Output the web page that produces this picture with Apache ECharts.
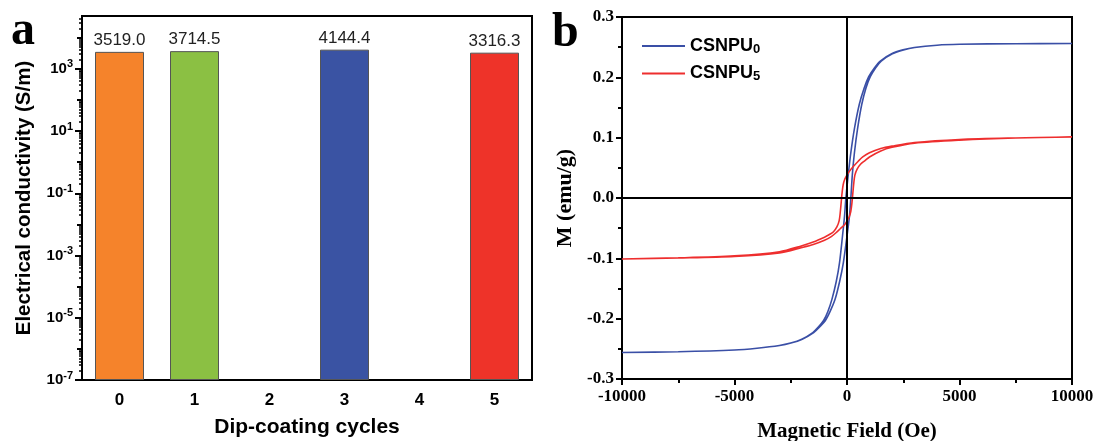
<!DOCTYPE html>
<html>
<head>
<meta charset="utf-8">
<script src="https://cdn.jsdelivr.net/npm/echarts@6/dist/echarts.min.js"></script>
<style>
  html, body { margin: 0; padding: 0; background: #fff; }
  #chart { width: 1096px; height: 441px; }
</style>
</head>
<body>
<div id="chart"></div>
<script>
// panel a: conductivity (S/m) vs dip-coating cycles
var cycles = ['0', '1', '2', '3', '4', '5'];
var conductivity = [3519.0, 3714.5, null, 4144.4, null, 3316.3];
var barColors = ['#F5832B', '#8BC043', '#ffffff', '#3A53A3', '#ffffff', '#EE3329'];
// log axis range and labelled exponents
var logMin = -7;
var logMax = Math.log10(5e4);
var labelExps = [-7, -5, -3, -1, 1, 3];

// panel b: hysteresis loops, field in Oe, moment in emu/g (descending branch then ascending)
var csnpu0H = [10000, 7500, 5000, 4000, 2990, 2490, 1985, 1480, 1225, 965, 760, 545, 330, 170, 60, -50, -110, -200, -335, -475, -670, -850, -1040, -1275, -1520, -2010, -2505, -3005, -4000, -5000, -7500, -10000,
               -7500, -5000, -4000, -2995, -2495, -1990, -1480, -1225, -960, -750, -530, -325, -165, 0, 110, 170, 240, 330, 470, 655, 840, 1035, 1275, 1520, 2015, 2510, 3010, 4000, 5000, 7500, 10000];
var csnpu0M = [0.256, 0.2557, 0.2548, 0.2533, 0.2495, 0.2455, 0.239, 0.227, 0.216, 0.201, 0.182, 0.155, 0.115, 0.075, 0.04, 0, -0.03, -0.063, -0.108, -0.138, -0.168, -0.188, -0.203, -0.214, -0.223, -0.234, -0.2405, -0.2445, -0.249, -0.252, -0.2548, -0.256,
               -0.2548, -0.252, -0.249, -0.2445, -0.2405, -0.234, -0.223, -0.214, -0.203, -0.188, -0.168, -0.138, -0.108, -0.063, -0.03, 0, 0.04, 0.075, 0.115, 0.155, 0.182, 0.201, 0.216, 0.227, 0.239, 0.2455, 0.2495, 0.2533, 0.2548, 0.2557, 0.256];
var csnpu5H = [10000, 7500, 5000, 3000, 2000, 1500, 1000, 700, 500, 300, 100, 0, -100, -170, -220, -260, -300, -350, -450, -600, -800, -1000, -1500, -2000, -3000, -5000, -7500, -10000,
               -7500, -5000, -3000, -2000, -1500, -1000, -700, -500, -300, -100, 0, 100, 170, 220, 260, 300, 350, 450, 600, 800, 1000, 1500, 2000, 3000, 5000, 7500, 10000];
var csnpu5M = [0.101, 0.0995, 0.097, 0.092, 0.086, 0.082, 0.075, 0.068, 0.061, 0.053, 0.044, 0.038, 0.031, 0.022, 0.008, -0.008, -0.024, -0.038, -0.048, -0.056, -0.061, -0.065, -0.073, -0.079, -0.089, -0.096, -0.0993, -0.101,
               -0.0995, -0.097, -0.091, -0.082, -0.077, -0.070, -0.064, -0.058, -0.051, -0.044, -0.038, -0.031, -0.022, -0.008, 0.008, 0.024, 0.038, 0.048, 0.056, 0.062, 0.068, 0.078, 0.084, 0.091, 0.096, 0.0995, 0.101];

function pairs(xs, ys) {
	var out = [];
	for (var i = 0; i < xs.length; i++) out.push([xs[i], ys[i]]);
	return out;
}

// decades above 1e-7, the left axis is drawn in these units
function toDecade(v) {
	return Math.log10(v) - logMin;
}

var sans = 'Liberation Sans';
var serif = 'Liberation Serif';

var barData = [];
for (var i = 0; i < cycles.length; i++) {
	barData.push(conductivity[i] == null ? '-' : {
		value: toDecade(conductivity[i]),
		raw: conductivity[i],
		itemStyle: { color: barColors[i] }
	});
}

// tick positions of the log axis
var majorTicks = [], midTicks = [], minorTicks = [];
for (var e = logMin; e <= 4; e++) {
	if (labelExps.indexOf(e) >= 0) majorTicks.push(e - logMin);
	else midTicks.push(e - logMin);
	for (var k = 2; k <= 9; k++) {
		var t = e - logMin + Math.log10(k);
		if (t < logMax - logMin) minorTicks.push(t);
	}
}

var tickLine = { color: '#000', width: 2 };

function overlayAxis(values, len, width) {
	return {
		type: 'value', gridIndex: 0, position: 'left', min: 0, max: logMax - logMin,
		axisLine: { show: false },
		axisTick: { show: true, length: len, customValues: values, lineStyle: { color: '#000', width: width } },
		axisLabel: { show: false },
		splitLine: { show: false }
	};
}

var myChart = echarts.init(document.getElementById('chart'), null, { renderer: 'canvas' });

var option = {
	animation: false,
	graphic: [
		{ type: 'text', left: 11, top: 8, style: { text: 'a', font: 'bold 48px "Liberation Serif"', fill: '#000' } },
		{ type: 'text', left: 552, top: 10, style: { text: 'b', font: 'bold 48px "Liberation Serif"', fill: '#000' } }
	],
	grid: [
		{ left: 82, top: 16, width: 450, height: 364, show: true, borderColor: '#000', borderWidth: 2, outerBoundsMode: 'none', containLabel: false },
		{ left: 622, top: 17, width: 450, height: 362, show: true, borderColor: '#000', borderWidth: 2, outerBoundsMode: 'none', containLabel: false }
	],
	legend: {
		orient: 'vertical',
		left: 637,
		top: 32,
		icon: 'rect',
		itemWidth: 43,
		itemHeight: 2,
		itemGap: 9,
		data: ['CSNPU0', 'CSNPU5'],
		formatter: function (name) {
			return '{b|CSNPU}{s|' + name.slice(5) + '}';
		},
		textStyle: {
			rich: {
				b: { fontFamily: sans, fontWeight: 'bold', fontSize: 18, color: '#000', lineHeight: 20 },
				s: { fontFamily: sans, fontWeight: 'bold', fontSize: 13, color: '#000', padding: [6, 0, 0, 0] }
			}
		}
	},
	xAxis: [
		{
			type: 'category', gridIndex: 0, position: 'bottom', data: cycles,
			name: 'Dip-coating cycles', nameLocation: 'middle', nameGap: 37,
			nameTextStyle: { fontFamily: sans, fontWeight: 'bold', fontSize: 21, color: '#000' },
			axisLine: { lineStyle: { color: '#000', width: 2 } },
			axisTick: { alignWithLabel: true, length: 7, lineStyle: tickLine },
			axisLabel: { fontFamily: sans, fontWeight: 'bold', fontSize: 17, color: '#000', margin: 12 },
			splitLine: { show: false }
		},
		{
			type: 'category', gridIndex: 0, position: 'bottom', data: cycles,
			axisLine: { show: false },
			axisTick: { length: 4, lineStyle: tickLine },
			axisLabel: { show: false },
			splitLine: { show: false }
		},
		{
			type: 'value', gridIndex: 1, min: -10000, max: 10000, interval: 5000,
			name: 'Magnetic Field (Oe)', nameLocation: 'middle', nameGap: 42,
			nameTextStyle: { fontFamily: serif, fontWeight: 'bold', fontSize: 21, color: '#000' },
			axisLine: { onZero: false, lineStyle: { color: '#000', width: 2 } },
			axisTick: { length: 6, lineStyle: tickLine },
			minorTick: { show: true, splitNumber: 2, length: 4, lineStyle: tickLine },
			axisLabel: {
				fontFamily: serif, fontWeight: 'bold', fontSize: 17, color: '#000', margin: 9,
				formatter: function (v) { return String(v); }
			},
			splitLine: { show: false }
		}
	],
	yAxis: [
		{
			type: 'value', gridIndex: 0, position: 'left', min: 0, max: logMax - logMin,
			name: 'Electrical conductivity (S/m)', nameLocation: 'middle', nameGap: 47,
			nameTextStyle: { fontFamily: sans, fontWeight: 'bold', fontSize: 20.5, color: '#000' },
			axisLine: { show: true, lineStyle: { color: '#000', width: 2 } },
			axisTick: { show: true, length: 7, customValues: majorTicks, lineStyle: tickLine },
			axisLabel: {
				customValues: majorTicks,
				margin: 9,
				formatter: function (v) {
					return '{b|10}{s|' + Math.round(v + logMin) + '}';
				},
				rich: {
					b: { fontFamily: sans, fontWeight: 'bold', fontSize: 15, color: '#000' },
					s: { fontFamily: sans, fontWeight: 'bold', fontSize: 11, color: '#000', padding: [0, 0, 9, 0] }
				}
			},
			splitLine: { show: false }
		},
		overlayAxis(midTicks, 5, 2),
		overlayAxis(minorTicks, 3, 1.5),
		{
			type: 'value', gridIndex: 1, min: -0.3, max: 0.3, interval: 0.1,
			name: 'M (emu/g)', nameLocation: 'middle', nameGap: 46,
			nameTextStyle: { fontFamily: serif, fontWeight: 'bold', fontSize: 22, color: '#000' },
			axisLine: { onZero: false, lineStyle: { color: '#000', width: 2 } },
			axisTick: { length: 6, lineStyle: tickLine },
			minorTick: { show: true, splitNumber: 2, length: 4, lineStyle: tickLine },
			axisLabel: {
				fontFamily: serif, fontWeight: 'bold', fontSize: 17, color: '#000', margin: 8,
				formatter: function (v) { return v.toFixed(1); }
			},
			splitLine: { show: false }
		}
	],
	series: [
		{
			type: 'bar', xAxisIndex: 0, yAxisIndex: 0,
			data: barData,
			barWidth: 49,
			itemStyle: { borderColor: '#555', borderWidth: 1 },
			label: {
				show: true, position: 'top', distance: 3,
				fontFamily: sans, fontSize: 17, color: '#222',
				formatter: function (p) { return p.data.raw.toFixed(1); }
			}
		},
		{
			name: 'CSNPU0', type: 'line', xAxisIndex: 2, yAxisIndex: 3,
			data: pairs(csnpu0H, csnpu0M),
			symbol: 'none', smooth: 0.3,
			lineStyle: { color: '#3A4FA6', width: 1.6 },
			itemStyle: { color: '#3A4FA6' },
			markLine: {
				silent: true, symbol: 'none', animation: false,
				label: { show: false },
				lineStyle: { color: '#000', width: 2, type: 'solid' },
				data: [{ xAxis: 0 }, { yAxis: 0 }]
			},
			z: 3
		},
		{
			name: 'CSNPU5', type: 'line', xAxisIndex: 2, yAxisIndex: 3,
			data: pairs(csnpu5H, csnpu5M),
			symbol: 'none', smooth: 0.3,
			lineStyle: { color: '#EE2E2E', width: 1.6 },
			itemStyle: { color: '#EE2E2E' },
			z: 4
		}
	]
};

myChart.setOption(option);
</script>
</body>
</html>
